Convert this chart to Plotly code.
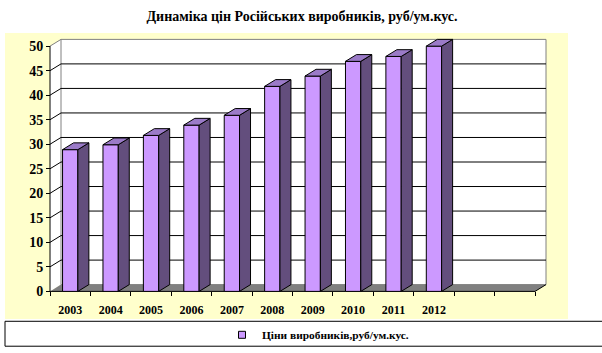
import plotly.graph_objects as go

# ---------------- data ----------------
years = ["2003", "2004", "2005", "2006", "2007", "2008", "2009", "2010", "2011", "2012"]
prices = [28.9, 29.9, 31.8, 33.9, 35.9, 41.8, 43.9, 46.9, 47.9, 50.0]
n_slots = 12                      # category slots on the axis (last two empty)
y_ticks = [0, 5, 10, 15, 20, 25, 30, 35, 40, 45, 50]
title_text = "Динаміка цін Російських виробників, руб/ум.кус."
series_name = "Ціни виробників,руб/ум.кус."

# ---------------- geometry ----------------
W, H = 602, 353
L, R, T, B = 5, 34, 33, 33          # plot area = yellow region
X0PX, X1PX = 50, 535                # pixel of category boundaries -0.5 and n_slots-0.5
Y0PX, YTPX = 292.3, 46.2            # pixel of value 0 and value 50 (front plane)
ymax = y_ticks[-1]
pxc = (X1PX - X0PX) / n_slots
pxu = (Y0PX - YTPX) / ymax
xr = [-0.5 - (X0PX - L) / pxc, -0.5 + (W - R - X0PX) / pxc]
yr = [-(H - B - Y0PX) / pxu, (Y0PX - T) / pxu]
DX = 11.0 / pxc                     # depth offset in data units
DY = 6.8 / pxu
BW = 15.3 / pxc                     # bar width

FONT = "Times New Roman, Liberation Serif, serif"
FRONT = "#CC99FF"
SIDE = "#634E7D"
TOP = "#9B7BC8"
GRAY = "#808080"

xl, xh = -0.5, n_slots - 0.5
shapes = []
# left side wall
shapes.append(dict(type="path", layer="below",
                   path=f"M{xl},0 L{xl+DX},{DY} L{xl+DX},{ymax+DY} L{xl},{ymax} Z",
                   fillcolor="white", line=dict(width=0)))
# back wall
shapes.append(dict(type="rect", layer="below", x0=xl + DX, y0=DY, x1=xh + DX, y1=ymax + DY,
                   fillcolor="white", line=dict(color=GRAY, width=1)))
# gridlines on back wall + diagonals on side wall
for v in y_ticks[1:]:
    col = GRAY if v == ymax else "black"
    if v != ymax:
        shapes.append(dict(type="line", layer="below", x0=xl + DX, y0=v + DY, x1=xh + DX, y1=v + DY,
                           line=dict(color="black", width=1)))
    shapes.append(dict(type="line", layer="below", x0=xl, y0=v, x1=xl + DX, y1=v + DY,
                       line=dict(color=col, width=1)))
# floor
shapes.append(dict(type="path", layer="below",
                   path=f"M{xl},0 L{xh},0 L{xh+DX},{DY} L{xl+DX},{DY} Z",
                   fillcolor=GRAY, line=dict(width=0)))
# axis lines
shapes.append(dict(type="line", layer="below", x0=xl, y0=0, x1=xl, y1=ymax, line=dict(color="black", width=1)))
shapes.append(dict(type="line", layer="below", x0=xl, y0=0, x1=xh, y1=0, line=dict(color="black", width=1)))
shapes.append(dict(type="line", layer="below", x0=xh, y0=0, x1=xh + DX, y1=DY, line=dict(color="black", width=1)))
# legend box (paper coords)
pw, ph = W - L - R, H - T - B
shapes.append(dict(type="rect", xref="paper", yref="paper",
                   x0=(5 - L) / pw, x1=(603 - L) / pw,
                   y0=(H - B - 347.3) / ph, y1=(H - B - 322.3) / ph,
                   fillcolor="white", line=dict(color="black", width=1)))

xs = list(range(len(years)))

side_x, side_y, top_x, top_y = [], [], [], []
for c, v in zip(xs, prices):
    r = c + BW / 2
    l = c - BW / 2
    side_x += [r, r + DX, r + DX, r, r, None]
    side_y += [0, DY, v + DY, v, 0, None]
    top_x += [l, r, r + DX, l + DX, l, None]
    top_y += [v, v, v + DY, v + DY, v, None]

fig = go.Figure()
fig.add_trace(go.Bar(x=xs, y=prices, width=BW, marker=dict(color=FRONT, line=dict(color="black", width=1)),
                     showlegend=False, hoverinfo="skip"))
fig.add_trace(go.Scatter(x=side_x, y=side_y, mode="lines", fill="toself", fillcolor=SIDE,
                         line=dict(color="black", width=1), showlegend=False, hoverinfo="skip"))
fig.add_trace(go.Scatter(x=top_x, y=top_y, mode="lines", fill="toself", fillcolor=TOP,
                         line=dict(color="black", width=1), showlegend=False, hoverinfo="skip"))
fig.add_trace(go.Scatter(x=[None], y=[None], mode="markers", name=series_name,
                         marker=dict(symbol="square", size=7, color=FRONT, line=dict(color="black", width=1))))

fig.update_layout(
    width=W, height=H,
    margin=dict(l=L, r=R, t=T, b=B),
    paper_bgcolor="white", plot_bgcolor="#FFFFCC",
    title=dict(text=title_text, x=302 / W, xref="container", xanchor="center",
               y=1 - 16.5 / H, yref="container", yanchor="middle",
               font=dict(family=FONT, size=14, color="black", weight="bold")),
    xaxis=dict(range=xr, anchor="free", position=(H - B - Y0PX) / ph,
               tickvals=xs, ticktext=years, ticks="outside", ticklen=7, tickcolor="rgba(0,0,0,0)",
               showgrid=False, zeroline=False, showline=False,
               minor=dict(tickvals=[i - 0.5 for i in range(n_slots + 1)], ticks="outside", ticklen=4,
                          tickcolor="black", showgrid=False),
               tickfont=dict(family=FONT, size=12, color="black", weight="bold"), fixedrange=True),
    yaxis=dict(range=yr, anchor="free", position=(X0PX - L) / pw,
               tickvals=y_ticks, ticks="outside", ticklen=4, tickcolor="black",
               showgrid=False, zeroline=False, showline=False,
               tickfont=dict(family=FONT, size=14, color="black", weight="bold"), fixedrange=True),
    showlegend=True,
    legend=dict(orientation="h", x=(318 - L) / pw, xanchor="center", y=(H - B - 334.8) / ph, yanchor="middle",
                bgcolor="rgba(0,0,0,0)", borderwidth=0,
                font=dict(family=FONT, size=11.4, color="black", weight="bold")),
    shapes=shapes,
)

fig.write_html("out.html")
